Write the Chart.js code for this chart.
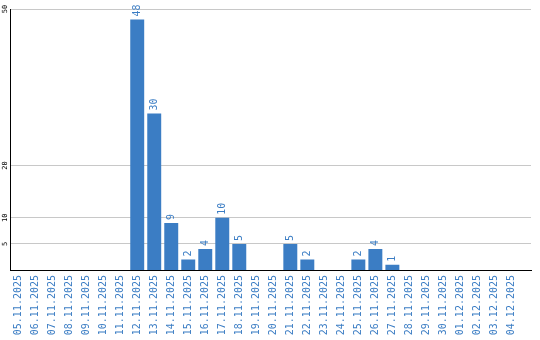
<!DOCTYPE html>
<html>
<head>
<meta charset="utf-8">
<script src="https://cdn.jsdelivr.net/npm/chart.js@4/dist/chart.umd.min.js"></script>
<style>
    body { margin: 0; background: #fff; }
    canvas { display: block; }
</style>
</head>
<body>
<canvas id="myChart" width="540" height="340"></canvas>
<script>
const days = ['05.11.2025', '06.11.2025', '07.11.2025', '08.11.2025', '09.11.2025', '10.11.2025',
    '11.11.2025', '12.11.2025', '13.11.2025', '14.11.2025', '15.11.2025', '16.11.2025',
    '17.11.2025', '18.11.2025', '19.11.2025', '20.11.2025', '21.11.2025', '22.11.2025',
    '23.11.2025', '24.11.2025', '25.11.2025', '26.11.2025', '27.11.2025', '28.11.2025',
    '29.11.2025', '30.11.2025', '01.12.2025', '02.12.2025', '03.12.2025', '04.12.2025'];
const counts = [0, 0, 0, 0, 0, 0, 0, 48, 30, 9, 2, 4, 10, 5, 0, 0, 5, 2, 0, 0, 2, 4, 1, 0, 0, 0, 0, 0, 0, 0];
const yTicks = [5, 10, 20, 50];

const blue = '#3b7dc4';

// rotated value labels on top of the bars and rotated y tick labels
const labelsPlugin = {
    id: 'labels',
    afterDatasetsDraw(chart) {
        const ctx = chart.ctx;
        const meta = chart.getDatasetMeta(0);
        ctx.save();
        ctx.font = '10px "DejaVu Sans Mono"';
        ctx.fillStyle = blue;
        ctx.textAlign = 'left';
        ctx.textBaseline = 'middle';
        meta.data.forEach((bar, i) => {
            if (!counts[i]) return;
            ctx.save();
            ctx.translate(bar.x, bar.y - 3);
            ctx.rotate(-Math.PI / 2);
            ctx.fillText(String(counts[i]), 0, 0);
            ctx.restore();
        });

        const y = chart.scales.y;
        ctx.font = '7px "DejaVu Sans Mono"';
        ctx.fillStyle = '#000';
        ctx.textAlign = 'center';
        yTicks.forEach(v => {
            ctx.save();
            ctx.translate(5, y.getPixelForValue(v));
            ctx.rotate(-Math.PI / 2);
            ctx.fillText(String(v), 0, 0);
            ctx.restore();
        });
        ctx.restore();
    }
};

new Chart(document.getElementById('myChart'), {
    type: 'bar',
    data: {
        datasets: [{
            data: counts.map((v, i) => ({ x: i, y: v })),
            backgroundColor: blue,
            borderWidth: 0,
            barPercentage: 0.82,
            categoryPercentage: 1.0
        }]
    },
    options: {
        responsive: false,
        animation: false,
        devicePixelRatio: 1,
        layout: { padding: { left: 0, top: 9, right: 9, bottom: 0 } },
        plugins: {
            legend: { display: false },
            tooltip: { enabled: false }
        },
        scales: {
            x: {
                type: 'linear',
                offset: false,
                min: -0.45,
                max: 30.15,
                afterBuildTicks: scale => {
                    scale.ticks = days.map((d, i) => ({ value: i }));
                },
                afterFit: scale => { scale.height = 70; },
                grid: { display: false, drawTicks: false, offset: false },
                border: { display: true, color: '#000', width: 1 },
                ticks: {
                    autoSkip: false,
                    minRotation: 90,
                    maxRotation: 90,
                    padding: 5,
                    color: blue,
                    font: { family: 'DejaVu Sans Mono', size: 10 },
                    callback: v => days[v]
                }
            },
            y: {
                min: 0,
                max: 50,
                afterBuildTicks: scale => {
                    scale.ticks = yTicks.map(v => ({ value: v }));
                },
                afterFit: scale => { scale.width = 10.5; },
                grid: { color: '#c8c8c8', lineWidth: 1, drawTicks: false },
                border: { display: true, color: '#000', width: 1 },
                ticks: { display: false }
            }
        }
    },
    plugins: [labelsPlugin]
});
</script>
</body>
</html>
